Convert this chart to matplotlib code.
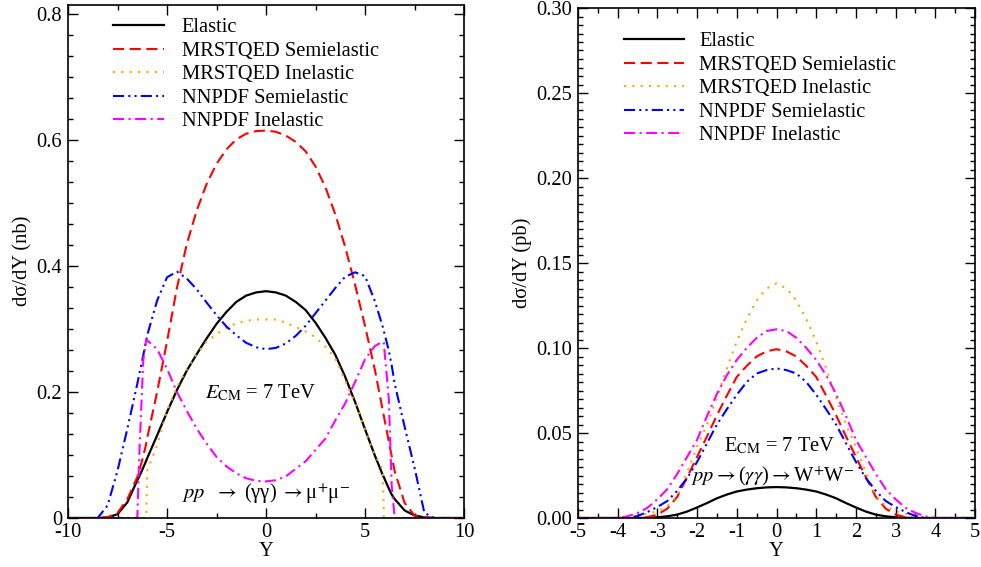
import matplotlib
matplotlib.use('Agg')
import matplotlib.pyplot as plt
from matplotlib.ticker import FixedLocator, MultipleLocator

plt.rcParams['font.family'] = ['Liberation Serif', 'DejaVu Serif']
plt.rcParams['mathtext.fontset'] = 'stix'
plt.rcParams['axes.unicode_minus'] = False
plt.rcParams['lines.scale_dashes'] = False

# ---- left panel: pp -> (gamma gamma) -> mu+ mu-, dsigma/dY in nb ----
y_left = [-10, -9, -8.5, -8, -7.5, -7, -6.5, -6.4, -6.2, -6.05, -6.0, -5.5, -5, -4.5, -4, -3.5, -3, -2.5, -2, -1.5, -1, -0.5, 0,
          0.5, 1, 1.5, 2, 2.5, 3, 3.5, 4, 4.5, 5, 5.5, 5.9, 5.95, 6.2, 6.35, 6.5, 7, 7.5, 8, 8.5, 9, 10]
elastic_l = [0, 0, 0, 0.001, 0.006, 0.025, 0.06, 0.066, 0.08, 0.091, 0.095, 0.131, 0.168, 0.203, 0.234, 0.26, 0.285, 0.308, 0.327, 0.343, 0.353, 0.358, 0.36,
             0.358, 0.353, 0.343, 0.33, 0.31, 0.286, 0.259, 0.224, 0.184, 0.141, 0.099, 0.068, 0.065, 0.047, 0.037, 0.03, 0.012, 0.004, 0.001, 0, 0, 0]
mrst_semi_l = [0, 0, 0, 0.001, 0.008, 0.03, 0.065, 0.075, 0.098, 0.118, 0.127, 0.2, 0.28, 0.365, 0.435, 0.488, 0.53, 0.562, 0.585, 0.601, 0.61, 0.614, 0.615,
               0.613, 0.607, 0.597, 0.582, 0.558, 0.525, 0.482, 0.43, 0.37, 0.305, 0.235, 0.17, 0.162, 0.122, 0.098, 0.074, 0.024, 0.004, 0.001, 0, 0, 0]
mrst_inel_l = [0, 0, 0, 0, 0, 0, 0, 0, 0, 0, 0.075, 0.116, 0.17, 0.208, 0.236, 0.26, 0.28, 0.292, 0.302, 0.309, 0.313, 0.315, 0.315,
               0.315, 0.31, 0.303, 0.296, 0.287, 0.272, 0.253, 0.218, 0.182, 0.14, 0.1, 0.077, 0, 0, 0, 0, 0, 0, 0, 0, 0, 0]
nnpdf_semi_l = [0, 0, 0, 0.02, 0.075, 0.142, 0.213, 0.228, 0.258, 0.282, 0.29, 0.345, 0.382, 0.391, 0.38, 0.363, 0.342, 0.322, 0.304, 0.29, 0.278, 0.271, 0.268,
                0.27, 0.277, 0.289, 0.305, 0.325, 0.345, 0.365, 0.383, 0.39, 0.384, 0.344, 0.303, 0.297, 0.266, 0.242, 0.213, 0.145, 0.08, 0.008, 0, 0, 0]
nnpdf_inel_l = [0, 0, 0, 0, 0, 0, 0, 0.1, 0.25, 0.283, 0.282, 0.268, 0.237, 0.2, 0.17, 0.142, 0.118, 0.097, 0.082, 0.071, 0.063, 0.059, 0.058,
                0.06, 0.066, 0.078, 0.09, 0.108, 0.126, 0.155, 0.182, 0.216, 0.252, 0.273, 0.28, 0.278, 0.19, 0.05, 0, 0, 0, 0, 0, 0, 0]

# ---- right panel: pp -> (gamma gamma) -> W+ W-, dsigma/dY in pb ----
y_right = [-5, -4.5, -4, -3.75, -3.5, -3.25, -3, -2.75, -2.5, -2.25, -2, -1.75, -1.5, -1.25, -1, -0.75, -0.5, -0.25, 0,
           0.25, 0.5, 0.75, 1, 1.25, 1.5, 1.75, 2, 2.25, 2.5, 2.75, 3, 3.25, 3.5, 3.75, 4, 4.5, 5]
elastic_r = [0, 0, 0, 0, 0, 0.0001, 0.0004, 0.001, 0.002, 0.0038, 0.0062, 0.0088, 0.0116, 0.0138, 0.0156, 0.0167, 0.0175, 0.018, 0.0182,
             0.018, 0.0175, 0.0167, 0.0156, 0.0138, 0.0116, 0.0088, 0.0062, 0.0038, 0.002, 0.001, 0.0004, 0.0001, 0, 0, 0, 0, 0]
mrst_semi_r = [0, 0, 0, 0, 0, 0.0005, 0.002, 0.0055, 0.0125, 0.024, 0.036, 0.048, 0.0605, 0.072, 0.083, 0.0895, 0.095, 0.098, 0.0993,
               0.098, 0.095, 0.0895, 0.083, 0.072, 0.0605, 0.048, 0.036, 0.024, 0.0125, 0.0055, 0.002, 0.0005, 0, 0, 0, 0, 0]
mrst_inel_r = [0, 0, 0, 0, 0.001, 0.0025, 0.004, 0.007, 0.013, 0.027, 0.042, 0.055, 0.071, 0.088, 0.104, 0.117, 0.128, 0.135, 0.138,
               0.135, 0.128, 0.117, 0.104, 0.088, 0.071, 0.055, 0.042, 0.027, 0.013, 0.007, 0.004, 0.0025, 0.001, 0, 0, 0, 0]
nnpdf_semi_r = [0, 0, 0, 0, 0.0012, 0.0035, 0.0065, 0.01, 0.016, 0.0235, 0.033, 0.044, 0.055, 0.064, 0.0725, 0.08, 0.085, 0.087, 0.088,
                0.087, 0.085, 0.08, 0.0725, 0.064, 0.055, 0.044, 0.033, 0.0235, 0.016, 0.01, 0.0065, 0.0035, 0.0012, 0, 0, 0, 0]
nnpdf_inel_r = [0, 0, 0, 0.001, 0.003, 0.006, 0.011, 0.017, 0.026, 0.036, 0.046, 0.06, 0.073, 0.084, 0.093, 0.1, 0.106, 0.11, 0.111,
                0.11, 0.106, 0.1, 0.093, 0.084, 0.073, 0.06, 0.046, 0.036, 0.026, 0.017, 0.011, 0.006, 0.003, 0.001, 0, 0, 0]

labels = ['Elastic', 'MRSTQED Semielastic', 'MRSTQED Inelastic', 'NNPDF Semielastic', 'NNPDF Inelastic']

left_xticks = [-10, -5, 0, 5, 10]
left_xlabels = ['-10', '-5', '0', '5', '10']
left_yticks = [0, 0.2, 0.4, 0.6, 0.8]
left_ylabels = ['0', '0.2', '0.4', '0.6', '0.8']
right_xticks = [-5, -4, -3, -2, -1, 0, 1, 2, 3, 4, 5]
right_xlabels = ['-5', '-4', '-3', '-2', '-1', '0', '1', '2', '3', '4', '5']
right_yticks = [0, 0.05, 0.10, 0.15, 0.20, 0.25, 0.30]
right_ylabels = ['0.00', '0.05', '0.10', '0.15', '0.20', '0.25', '0.30']

# line styles (colour, dash pattern in points)
styles = [
    ('black', None),
    ('red', (0, (8, 4))),
    ('orange', (0, (1.5, 4.5))),
    ('blue', (0, (8, 3, 1.5, 3, 1.5, 3))),
    ('magenta', (0, (8, 3.2, 1.5, 3.2))),
]

FS = 14.8

fig = plt.figure(figsize=(9.81, 5.67), dpi=100)
ax1 = fig.add_axes([68 / 981, 49 / 567, 396 / 981, 513.5 / 567])
ax2 = fig.add_axes([578 / 981, 49 / 567, 397 / 981, 510 / 567])


def draw(ax, x, series):
    for vals, lab, (col, ls) in zip(series, labels, styles):
        if ls is None:
            ax.plot(x, vals, color=col, lw=1.6, label=lab)
        else:
            ax.plot(x, vals, color=col, lw=1.5, linestyle=ls, label=lab)


def style_axes(ax):
    ax.tick_params(which='both', direction='in', top=True, right=True, labelsize=FS)
    ax.tick_params(which='major', length=7, width=1)
    ax.tick_params(which='minor', length=3.5, width=1)
    ax.tick_params(axis='y', pad=4.3)
    ax.tick_params(axis='x', pad=3.5)
    for s in ax.spines.values():
        s.set_linewidth(1.2)


draw(ax1, y_left, [elastic_l, mrst_semi_l, mrst_inel_l, nnpdf_semi_l, nnpdf_inel_l])
ax1.set_xlim(-10, 10)
ax1.set_ylim(0, 0.815)
ax1.xaxis.set_major_locator(FixedLocator(left_xticks))
ax1.set_xticklabels(left_xlabels)
ax1.yaxis.set_major_locator(FixedLocator(left_yticks))
ax1.set_yticklabels(left_ylabels)
ax1.xaxis.set_minor_locator(MultipleLocator(2.5))
ax1.yaxis.set_minor_locator(MultipleLocator(0.2 / 6))
style_axes(ax1)
ax1.set_xlabel('Y', fontsize=FS, labelpad=0)
ax1.set_ylabel('dσ/dY (nb)', fontsize=FS, labelpad=3)
ax1.legend(loc='upper left', bbox_to_anchor=(0.113, 0.974), frameon=False, fontsize=FS,
           handlelength=2.5, handletextpad=0.85, labelspacing=0.2, borderpad=0, borderaxespad=0)
ax1.text(-0.25, 0.19, r'$E_{\rm CM}$ = 7 TeV', fontsize=FS, ha='center', va='baseline')
ax1.text(0.02, 0.03, r'$pp\ \ \rightarrow$ (γγ) $\rightarrow$μ$^{+}$μ$^{-}$', fontsize=FS, ha='center', va='baseline')

draw(ax2, y_right, [elastic_r, mrst_semi_r, mrst_inel_r, nnpdf_semi_r, nnpdf_inel_r])
ax2.set_xlim(-5, 5)
ax2.set_ylim(0, 0.30)
ax2.xaxis.set_major_locator(FixedLocator(right_xticks))
ax2.set_xticklabels(right_xlabels)
ax2.yaxis.set_major_locator(FixedLocator(right_yticks))
ax2.set_yticklabels(right_ylabels)
ax2.xaxis.set_minor_locator(MultipleLocator(0.5))
ax2.yaxis.set_minor_locator(MultipleLocator(0.005))
style_axes(ax2)
ax2.set_xlabel('Y', fontsize=FS, labelpad=0)
ax2.set_ylabel('dσ/dY (pb)', fontsize=FS, labelpad=3)
ax2.legend(loc='upper left', bbox_to_anchor=(0.116, 0.953), frameon=False, fontsize=FS,
           handlelength=2.9, handletextpad=0.75, labelspacing=0.2, borderpad=0, borderaxespad=0)
ax2.text(0.08, 0.039, r'E$_{\rm CM}$ = 7 TeV', fontsize=FS, ha='center', va='baseline')
ax2.text(-0.09, 0.0214, r'$pp$$\rightarrow$($\gamma\gamma$)$\rightarrow$W$^{+}$W$^{-}$', fontsize=FS, ha='center', va='baseline')

fig.savefig('out.png', dpi=100)
